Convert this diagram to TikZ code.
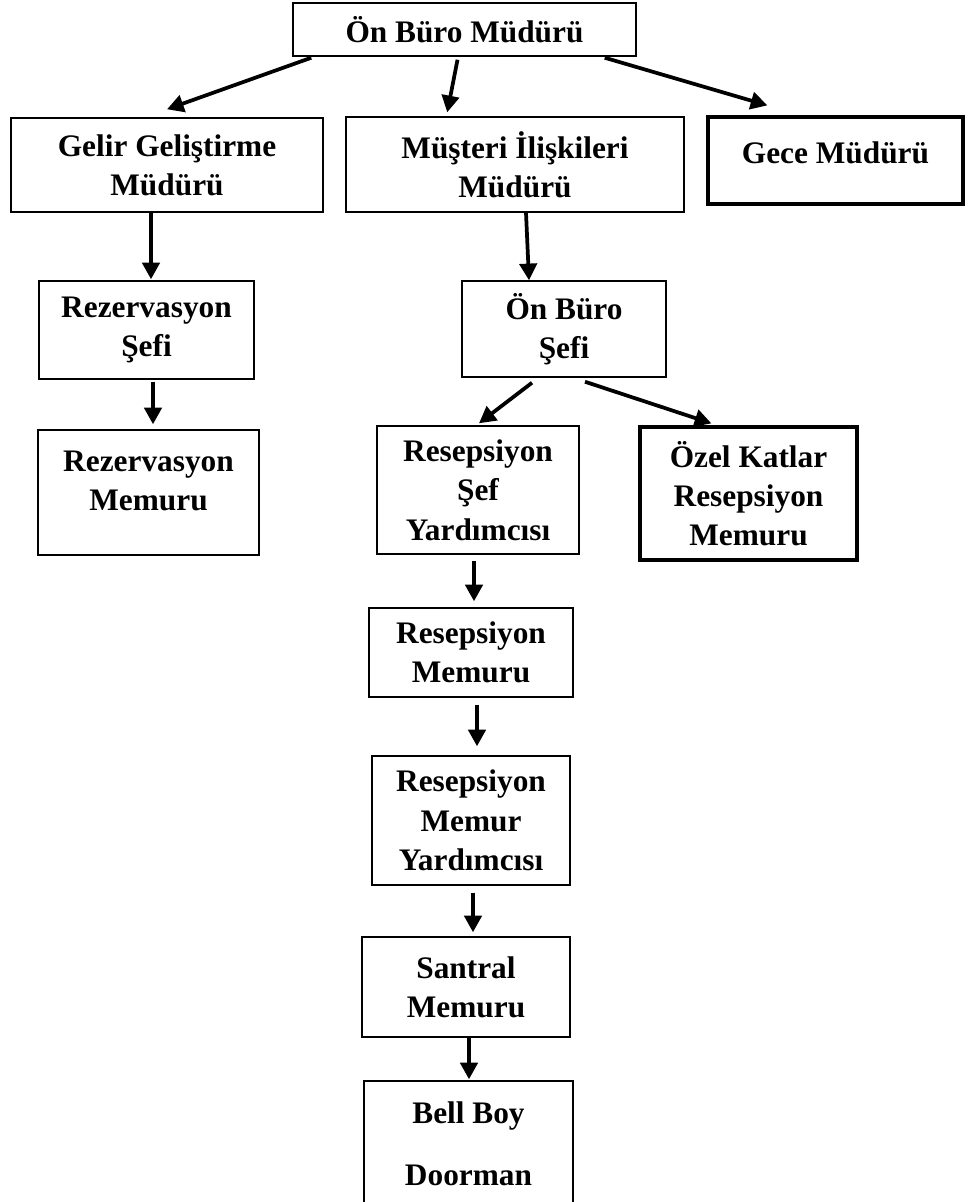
\documentclass[tikz,border=0pt]{standalone}
\usepackage{fontspec}
\setmainfont{Liberation Serif}
\usetikzlibrary{arrows.meta,calc}

\tikzset{
    box/.style={draw, line width=1.1pt, align=center, inner sep=0pt,
        font=\bfseries\fontsize{23.5}{29.5}\selectfont},
    thickbox/.style={box, line width=2.4pt},
    arr/.style={-{Triangle[length=12.5pt,width=13pt]}, line width=2.8pt}
}

\begin{document}
\begin{tikzpicture}[x=0.75pt, y=-0.75pt]
    \useasboundingbox (0,0) rectangle (967,1202);
    \clip (0,0) rectangle (967,1202);

    % Top level
    \node[box, minimum width=257.25pt, minimum height=39.75pt] (onburo) at (464.5, 29.5) {Ön Büro Müdürü};

    % Second level
    \node[box, minimum width=234pt, minimum height=70.5pt] (gelir) at (167, 165) {Gelir Geliştirme\\Müdürü};
    \node[box, minimum width=253.5pt, minimum height=71.25pt] (musteri) at (515, 164.5) {Müşteri İlişkileri\\Müdürü};
    \node[thickbox, minimum width=191.25pt, minimum height=65.25pt, text depth=12pt] (gece) at (835.5, 160.5) {Gece Müdürü};

    % Reservation side
    \node[box, minimum width=161.25pt, minimum height=73.5pt] (rezsef) at (146.5, 330) {Rezervasyon\\Şefi};
    \node[box, minimum width=165.75pt, minimum height=93.75pt, text depth=18pt] (rezmem) at (148.5, 492.5) {Rezervasyon\\Memuru};

    % Front office side
    \node[box, minimum width=153pt, minimum height=72pt] (obsef) at (564, 329) {Ön Büro\\Şefi};
    \node[box, minimum width=151.5pt, minimum height=96pt] (rsy) at (478, 490) {Resepsiyon\\Şef\\Yardımcısı};
    \node[thickbox, minimum width=162.75pt, minimum height=99.75pt] (ozel) at (748.5, 493.5) {Özel Katlar\\Resepsiyon\\Memuru};
    \node[box, minimum width=153pt, minimum height=66.75pt] (rm) at (471, 652.5) {Resepsiyon\\Memuru};
    \node[box, minimum width=148.5pt, minimum height=96.75pt] (rmy) at (471, 820.5) {Resepsiyon\\Memur\\Yardımcısı};
    \node[box, minimum width=156pt, minimum height=75pt] (santral) at (466, 987) {Santral\\Memuru};
    \node[box, minimum width=156.75pt, minimum height=93.75pt] (bellboy) at (468.5, 1143.5) {Bell Boy\\[17pt]Doorman};

    % Arrows from the top
    \draw[arr] ($(onburo.south west)+(19,1)$) -- ($(gelir.north)+(0,-8)$);
    \draw[arr] ($(onburo.south)+(-7,3)$) -- ($(musteri.north west)+(102,-4)$);
    \draw[arr] ($(onburo.south east)+(-32,1)$) -- ($(gece.north west)+(61,-10)$);

    % Arrows down the left column
    \draw[arr] ($(gelir.south)+(-16,0)$) -- ($(rezsef.north)+(4.5,-1)$);
    \draw[arr] ($(rezsef.south)+(6.5,2)$) -- ($(rezmem.north)+(4.5,-5)$);

    % Arrows down the middle
    \draw[arr] ($(musteri.south)+(11,0)$) -- ($(obsef.north)+(-35,0)$);
    \draw[arr] ($(obsef.south)+(-32,5)$) -- ($(rsy.north)+(1,-2)$);
    \draw[arr] ($(obsef.south)+(21,4)$) -- ($(ozel.north west)+(73,-2)$);
    \draw[arr] ($(rsy.south)+(-4,6)$) -- ($(rm.north)+(3,-6)$);
    \draw[arr] ($(rm.south)+(6,7)$) -- ($(rmy.north)+(6,-9)$);
    \draw[arr] ($(rmy.south)+(2,7)$) -- ($(santral.north)+(7,-4)$);
    \draw[arr] ($(santral.south)+(3,0)$) -- ($(bellboy.north)+(0.5,-1)$);
\end{tikzpicture}
\end{document}
